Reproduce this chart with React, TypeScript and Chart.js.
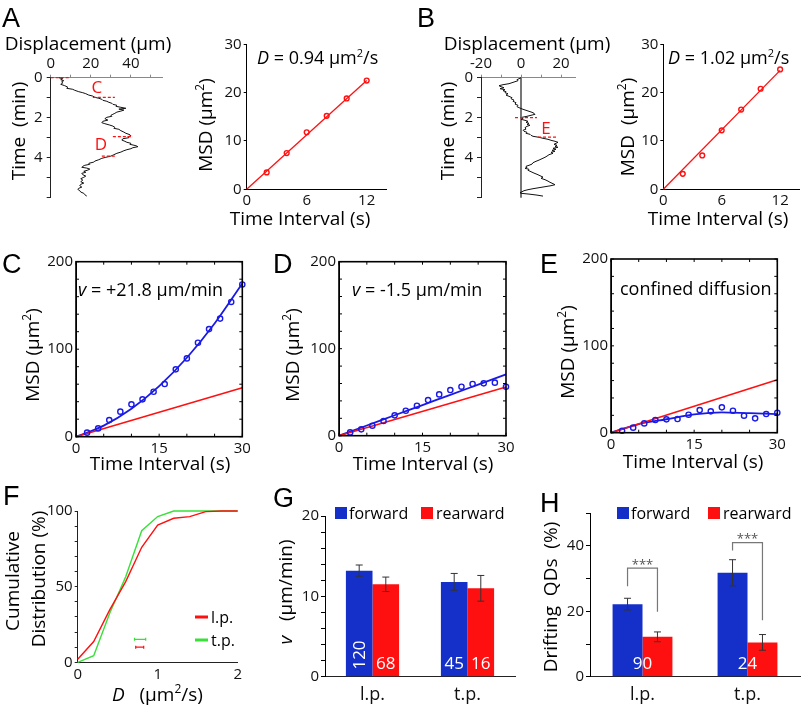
import React, { useEffect, useRef } from "react";
import { Chart, registerables } from "chart.js";

Chart.register(...registerables);

const W = 805;
const H = 707;
const FONT = "'Open Sans', 'DejaVu Sans', sans-serif";
const LETTER_FONT = "'Liberation Sans', Arial, sans-serif";
const BAR_BLUE = "#1430c8";
const BLUE = "#1a1ae6";
const RED = "#ff1010";
const GREEN = "#38e038";

// ---------------- Panel A / B : displacement traces ----------------
const traceATime = [0, 0.05, 0.1, 0.15, 0.2, 0.27, 0.33, 0.4, 0.47, 0.53, 0.58, 0.63, 0.7, 0.75, 0.8, 0.87, 0.92, 0.98, 1.03, 1.08, 1.13, 1.18, 1.23, 1.28, 1.33, 1.38, 1.43, 1.48, 1.53, 1.57, 1.62, 1.67, 1.72, 1.78, 1.83, 1.88, 1.93, 1.98, 2.05, 2.12, 2.18, 2.25, 2.3, 2.37, 2.42, 2.48, 2.53, 2.58, 2.65, 2.72, 2.78, 2.85, 2.9, 2.95, 3.0, 3.05, 3.12, 3.18, 3.23, 3.28, 3.33, 3.4, 3.45, 3.5, 3.55, 3.6, 3.65, 3.72, 3.78, 3.85, 3.92, 3.98, 4.03, 4.1, 4.17, 4.22, 4.28, 4.33, 4.38, 4.43, 4.48, 4.52, 4.57, 4.62, 4.68, 4.73, 4.78, 4.85, 4.92, 4.98, 5.05, 5.12, 5.2, 5.27, 5.33, 5.4, 5.47, 5.53, 5.58, 5.65, 5.72, 5.78, 5.85, 5.92];
const traceADisp = [4, 6, 5, 6.5, 5.5, 6, 5, 7, 8.5, 8, 11, 12, 14, 16, 17.5, 19, 21, 22, 24, 25.5, 26, 28, 29, 30.5, 31, 33, 32.5, 35, 37.5, 34, 36.5, 35, 33, 32, 31, 30, 30.5, 28, 27, 28.5, 26, 25.5, 27, 29.5, 31, 32, 31.5, 34, 35, 36.5, 37.5, 39.5, 40, 38.5, 39, 36, 35.5, 37, 38, 40, 39.5, 42.5, 43.5, 41, 40, 38, 36.5, 35, 33, 31.5, 30, 27.5, 25.5, 24, 22, 21.5, 19, 19.5, 17, 16, 15.5, 18, 19.5, 18.5, 16.5, 17.5, 15.5, 16, 17.5, 16.5, 15, 16, 15, 16.5, 15, 14.5, 15.5, 14, 13.5, 14.5, 15, 16.5, 17, 18];
const traceBTime = [0, 0.05, 0.1, 0.15, 0.2, 0.25, 0.3, 0.35, 0.4, 0.45, 0.5, 0.55, 0.6, 0.65, 0.7, 0.75, 0.8, 0.87, 0.93, 1.0, 1.05, 1.12, 1.18, 1.25, 1.32, 1.38, 1.45, 1.52, 1.58, 1.63, 1.68, 1.73, 1.78, 1.83, 1.88, 1.93, 1.98, 2.03, 2.08, 2.13, 2.18, 2.23, 2.28, 2.33, 2.38, 2.43, 2.5, 2.57, 2.63, 2.68, 2.73, 2.78, 2.83, 2.88, 2.93, 2.98, 3.03, 3.08, 3.13, 3.18, 3.23, 3.28, 3.33, 3.38, 3.43, 3.48, 3.53, 3.58, 3.63, 3.68, 3.73, 3.78, 3.85, 3.92, 3.98, 4.05, 4.12, 4.18, 4.25, 4.32, 4.38, 4.43, 4.48, 4.53, 4.58, 4.63, 4.7, 4.77, 4.83, 4.9, 4.97, 5.03, 5.1, 5.17, 5.23, 5.3, 5.35, 5.4, 5.45, 5.5, 5.55, 5.6, 5.65, 5.7, 5.75, 5.78, 5.82, 5.87, 5.92];
const traceBDisp = [0, -1, -2, -1.5, -3, -4.5, -6, -9, -11, -10, -8.5, -10.5, -8, -9, -7.5, -8, -6.5, -7.5, -6, -4.5, -5, -3.5, -4, -2.5, -3, -1.5, -2, -0.5, 1, 2.5, 4, 5.5, 6.5, 7, 5, 3, 0.5, 1, 0, 2, 3.5, 2.5, 4, 3, 4.5, 3, 2, 2.5, 1, 1.5, 3, 2.5, 4.5, 5, 6, 9, 11, 13.5, 15, 17, 18.5, 17.5, 16.5, 18, 17, 18.5, 16, 17.5, 15.5, 17, 15, 16, 14, 13, 12, 10.5, 9, 7.5, 6, 5.5, 4, 2.5, 3, 2, 4, 3.5, 5, 6.5, 8, 9.5, 11, 10, 12, 13.5, 14.5, 16, 17, 15, 12, 9, 6, 3.5, 1.5, 0.5, -0.5, 0, 4, 8, 11];
const markATime = [0, 0.98, 2.95, 3.92];
const markAFrom = [0, 21, 31, 25.5];
const markATo = [10, 32, 41, 33];
const markBTime = [2, 2.97];
const markBFrom = [-3, 8.5];
const markBTo = [8, 18];

// ---------------- Panel A / B : MSD ----------------
const lagAB = [2, 4, 6, 8, 10, 12];
const msdA = [3.5, 7.5, 11.8, 15.2, 18.8, 22.5];
const msdB = [3.2, 7.0, 12.2, 16.5, 20.8, 24.8];
const fitLagAB = [0, 12];
const fitA = [0, 22.5];
const fitB = [0, 24.6];

// ---------------- Panels C / D / E ----------------
const lagCDE = [2, 4, 6, 8, 10, 12, 14, 16, 18, 20, 22, 24, 26, 28, 30];
const msdC = [4.6, 9.5, 19, 28.6, 37, 42.7, 51.4, 60.2, 77, 89.5, 107.4, 123, 135, 154, 174];
const msdD = [3.8, 7.3, 11.5, 16.9, 23.4, 28.7, 34.5, 41, 47.5, 52.5, 56.3, 59.4, 60.2, 61, 56.3];
const msdE = [2.3, 5.8, 10.7, 14.6, 15.4, 15.7, 20.7, 26, 24.6, 29.2, 25.3, 19.6, 16.5, 21.5, 23];
const fitLagCDE = [0, 5, 10, 15, 20, 25, 30];
const fitC = [0, 12.6, 31.9, 57.8, 90.2, 129.3, 175];
const fitD = [0, 11.7, 23.5, 35.2, 47, 58.7, 70.4];
const fitE = [0, 10, 15.5, 21, 23.5, 22.5, 21.5];
const diffLag = [0, 30];
const diffC = [0, 56];
const diffD = [0, 56];
const diffE = [0, 61];

// ---------------- Panel F ----------------
const dBins = [0, 0.2, 0.4, 0.6, 0.8, 1.0, 1.2, 1.4, 1.6, 1.8, 2.0];
const cumLp = [2, 13.7, 34.6, 53.3, 76, 90.7, 95.2, 96.3, 99.6, 100, 100];
const cumTp = [0, 4.4, 32.4, 56.6, 87, 96.3, 100, 100, 100, 100, 100];
const dMean = [0.775, 0.78];
const dErr = [0.05, 0.07];
const dRowY = [10, 15.2];

// ---------------- Panels G / H ----------------
const groups = ["l.p.", "t.p."];
const vFwd = [13.2, 11.8];
const vRear = [11.5, 11.0];
const vFwdErr = [0.7, 1.05];
const vRearErr = [0.9, 1.6];
const vFwdN = ["120", "45"];
const vRearN = ["68", "16"];
const qFwd = [22.2, 31.8];
const qRear = [12.2, 10.5];
const qFwdErr = [1.8, 4.0];
const qRearErr = [1.5, 2.4];
const qN = ["90", "24"];
const sigLeft = [27.7, 38.6];
const sigTop = [33.2, 41];
const sigRight = [19.9, 17.3];

// ================= helpers =================
type Rect = { l: number; t: number; r: number; b: number };
type Seg = { t: string; it?: boolean; sup?: boolean };
type RichOpt = { align?: "left" | "center" | "right"; rotate?: boolean; color?: string };

function rich(ctx: CanvasRenderingContext2D, segs: Seg[], x: number, y: number, size: number, o: RichOpt = {}) {
  ctx.save();
  ctx.translate(x, y);
  if (o.rotate) ctx.rotate(-Math.PI / 2);
  const fontOf = (s: Seg) => `${s.it ? "italic " : ""}${s.sup ? Math.round(size * 0.62) : size}px ${FONT}`;
  const widths = segs.map((s) => {
    ctx.font = fontOf(s);
    return ctx.measureText(s.t).width;
  });
  const total = widths.reduce((a, b) => a + b, 0);
  let cx = o.align === "center" ? -total / 2 : o.align === "right" ? -total : 0;
  ctx.fillStyle = o.color ?? "#000";
  ctx.textAlign = "left";
  ctx.textBaseline = "alphabetic";
  segs.forEach((s, i) => {
    ctx.font = fontOf(s);
    ctx.fillText(s.t, cx, s.sup ? size * 0.36 - size * 0.42 : size * 0.36);
    cx += widths[i];
  });
  ctx.restore();
}

function letter(ctx: CanvasRenderingContext2D, s: string, x: number, y: number) {
  ctx.save();
  ctx.font = `27px ${LETTER_FONT}`;
  ctx.fillStyle = "#000";
  ctx.textAlign = "left";
  ctx.textBaseline = "alphabetic";
  ctx.fillText(s, x, y);
  ctx.restore();
}

function zeroPad(s: any) {
  s.paddingLeft = 0;
  s.paddingRight = 0;
  s.paddingTop = 0;
  s.paddingBottom = 0;
}

interface AxOpt {
  pos: "left" | "right" | "top" | "bottom";
  min: number;
  max: number;
  step: number;
  show: number[];
  tick: number;
  size: number;
  pad?: number;
  color?: string;
  reverse?: boolean;
  fs?: number;
}

function linAxis(o: AxOpt) {
  const vertical = o.pos === "left" || o.pos === "right";
  const col = o.color ?? "#000";
  return {
    type: "linear",
    position: o.pos,
    min: o.min,
    max: o.max,
    reverse: !!o.reverse,
    afterFit: (s: any) => {
      if (vertical) s.width = o.size;
      else s.height = o.size;
      zeroPad(s);
    },
    ticks: {
      stepSize: o.step,
      includeBounds: false,
      autoSkip: false,
      maxRotation: 0,
      minRotation: 0,
      padding: o.pad ?? 3,
      color: "#111",
      font: { family: FONT, size: o.fs ?? 15 },
      callback: (v: number) => (o.show.some((s) => Math.abs(s - v) < 1e-6) ? String(v) : ""),
    },
    grid: {
      display: true,
      drawOnChartArea: false,
      drawTicks: o.tick > 0,
      tickLength: o.tick,
      color: col,
      tickColor: col,
      lineWidth: 1,
    },
    border: { display: true, color: col, width: 1 },
  };
}

function catAxis(size: number) {
  return {
    type: "category",
    position: "bottom",
    afterFit: (s: any) => {
      s.height = size;
      zeroPad(s);
    },
    ticks: { padding: 7, color: "#111", font: { family: FONT, size: 18 }, maxRotation: 0, minRotation: 0 },
    grid: { display: true, drawOnChartArea: false, drawTicks: false, color: "#000" },
    border: { display: true, color: "#222", width: 1 },
  };
}

function base(rect: Rect, xSize: number, ySize: number, xTop: boolean, scales: any) {
  return {
    responsive: false,
    maintainAspectRatio: false,
    animation: false,
    events: [],
    layout: {
      padding: {
        left: rect.l - ySize,
        top: xTop ? rect.t - xSize : rect.t,
        right: W - rect.r,
        bottom: xTop ? H - rect.b : H - rect.b - xSize,
      },
    },
    plugins: { legend: { display: false }, tooltip: { enabled: false } },
    scales,
  };
}

function deco(fn: (chart: any, ctx: CanvasRenderingContext2D) => void) {
  return {
    id: "deco",
    afterDraw(chart: any) {
      const ctx = chart.ctx as CanvasRenderingContext2D;
      ctx.save();
      fn(chart, ctx);
      ctx.restore();
    },
  };
}

function pxy(chart: any, x: number, y: number): [number, number] {
  return [chart.scales.x.getPixelForValue(x), chart.scales.y.getPixelForValue(y)];
}

function pts(xs: number[], ys: number[]) {
  return xs.map((x, i) => ({ x, y: ys[i] }));
}

function lineDs(data: any[], color: string, width: number, extra: any = {}) {
  return { data, showLine: true, borderColor: color, backgroundColor: color, borderWidth: width, pointRadius: 0, clip: false, ...extra };
}

function circleDs(data: any[], color: string, r = 2.6) {
  return {
    data,
    showLine: false,
    pointStyle: "circle",
    pointRadius: r,
    pointBorderWidth: 1.4,
    pointBorderColor: color,
    borderColor: color,
    pointBackgroundColor: "rgba(0,0,0,0)",
    backgroundColor: "rgba(0,0,0,0)",
    clip: false,
  };
}

function frame(chart: any, ctx: CanvasRenderingContext2D) {
  const a = chart.chartArea;
  const sx = chart.scales.x;
  const sy = chart.scales.y;
  ctx.strokeStyle = "#000";
  ctx.lineWidth = 1.6;
  ctx.strokeRect(a.left, a.top, a.right - a.left, a.bottom - a.top);
  ctx.lineWidth = 1;
  ctx.beginPath();
  sx.ticks.forEach((t: any) => {
    const p = sx.getPixelForValue(t.value);
    ctx.moveTo(p, a.bottom);
    ctx.lineTo(p, a.bottom - 3);
    ctx.moveTo(p, a.top);
    ctx.lineTo(p, a.top + 3);
  });
  sy.ticks.forEach((t: any) => {
    const p = sy.getPixelForValue(t.value);
    ctx.moveTo(a.left, p);
    ctx.lineTo(a.left + 3, p);
    ctx.moveTo(a.right, p);
    ctx.lineTo(a.right - 3, p);
  });
  ctx.stroke();
}

function errV(ctx: CanvasRenderingContext2D, x: number, y1: number, y2: number, cap: number) {
  ctx.beginPath();
  ctx.moveTo(x, y1);
  ctx.lineTo(x, y2);
  ctx.moveTo(x - cap, y1);
  ctx.lineTo(x + cap, y1);
  ctx.moveTo(x - cap, y2);
  ctx.lineTo(x + cap, y2);
  ctx.stroke();
}

const MSD_LABEL: Seg[] = [{ t: "MSD (μm" }, { t: "2", sup: true }, { t: ")" }];
const MSD_LABEL_B: Seg[] = [{ t: "MSD  (μm" }, { t: "2", sup: true }, { t: ")" }];
const TI_LABEL: Seg[] = [{ t: "Time Interval (s)" }];

// ================= panel configs =================
function cfgTrace(which: "A" | "B") {
  const isA = which === "A";
  const rect: Rect = isA ? { l: 50.7, t: 77.7, r: 163, b: 197.7 } : { l: 481, t: 77.7, r: 575, b: 197.7 };
  const times = isA ? traceATime : traceBTime;
  const disps = isA ? traceADisp : traceBDisp;
  const mt = isA ? markATime : markBTime;
  const mf = isA ? markAFrom : markBFrom;
  const mto = isA ? markATo : markBTo;
  const datasets: any[] = mt.map((t, i) =>
    lineDs([{ x: mf[i], y: t }, { x: mto[i], y: t }], RED, 1.3, { borderDash: [3, 2] })
  );
  datasets.push(lineDs(pts(disps, times), "#111", 1));
  if (!isA) datasets.push(lineDs([{ x: 0, y: 0 }, { x: 0, y: 6 }], "#555", 1.6));
  return {
    type: "scatter",
    data: { datasets },
    options: base(rect, 24, 30, true, {
      x: linAxis({
        pos: "top",
        min: isA ? 0 : -20,
        max: isA ? 56 : 27,
        step: 10,
        show: isA ? [0, 20, 40] : [-20, 0, 20],
        tick: 3,
        size: 24,
        pad: 2,
        color: "#888",
      }),
      y: linAxis({ pos: "left", min: 0, max: 6, step: 1, show: [0, 2, 4], tick: 4, size: 30, pad: 4, reverse: true, color: "#222" }),
    }),
    plugins: [
      deco((ch, ctx) => {
        if (isA) {
          letter(ctx, "A", 2, 27);
          rich(ctx, [{ t: "Displacement (μm)" }], 88, 43, 19, { align: "center" });
          rich(ctx, [{ t: "Time  (min)" }], 18, 131, 19, { align: "center", rotate: true });
          let [x, y] = pxy(ch, 23, 0.47);
          rich(ctx, [{ t: "C" }], x, y, 17, { align: "center", color: RED });
          [x, y] = pxy(ch, 25, 3.33);
          rich(ctx, [{ t: "D" }], x, y, 17, { align: "center", color: RED });
        } else {
          letter(ctx, "B", 417, 27);
          rich(ctx, [{ t: "Displacement (μm)" }], 527, 43, 19, { align: "center" });
          rich(ctx, [{ t: "Time  (min)" }], 447, 131, 19, { align: "center", rotate: true });
          const [x, y] = pxy(ch, 12.5, 2.5);
          rich(ctx, [{ t: "E" }], x, y, 17, { align: "center", color: RED });
        }
      }),
    ],
  };
}

function cfgMsdAB(which: "A" | "B") {
  const isA = which === "A";
  const rect: Rect = isA ? { l: 246.7, t: 44.3, r: 386.7, b: 189.3 } : { l: 663.3, t: 44.3, r: 803.3, b: 189.3 };
  const vals = isA ? msdA : msdB;
  const fit = isA ? fitA : fitB;
  return {
    type: "scatter",
    data: {
      datasets: [circleDs(pts(lagAB, vals), RED, 2.4), lineDs(pts(fitLagAB, fit), RED, 1.3)],
    },
    options: base(rect, 24, 30, false, {
      x: linAxis({ pos: "bottom", min: 0, max: 14, step: 3, show: [0, 6, 12], tick: 0, size: 24, pad: 2 }),
      y: linAxis({ pos: "left", min: 0, max: 30, step: 10, show: [0, 10, 20, 30], tick: 3, size: 30, pad: 2 }),
    }),
    plugins: [
      deco((ch, ctx) => {
        const dv = isA ? "0.94" : "1.02";
        rich(
          ctx,
          [{ t: "D", it: true }, { t: ` = ${dv} μm` }, { t: "2", sup: true }, { t: "/s" }],
          isA ? 257 : 668,
          58,
          18
        );
        rich(ctx, isA ? MSD_LABEL : MSD_LABEL_B, isA ? 205 : 627, isA ? 125 : 127, 19, { align: "center", rotate: true });
        rich(ctx, TI_LABEL, isA ? 300 : 718, 218, 19, { align: "center" });
      }),
    ],
  };
}

function cfgCDE(which: "C" | "D" | "E") {
  const rects: Record<string, Rect> = {
    C: { l: 76, t: 261.7, r: 242.3, b: 436.7 },
    D: { l: 339, t: 261.7, r: 506, b: 435.7 },
    E: { l: 611, t: 259, r: 777.3, b: 432.7 },
  };
  const vals = which === "C" ? msdC : which === "D" ? msdD : msdE;
  const fit = which === "C" ? fitC : which === "D" ? fitD : fitE;
  const diff = which === "C" ? diffC : which === "D" ? diffD : diffE;
  const rect = rects[which];
  return {
    type: "scatter",
    data: {
      datasets: [
        circleDs(pts(lagCDE, vals), BLUE, 2.6),
        lineDs(pts(diffLag, diff), RED, 1.5),
        lineDs(pts(fitLagCDE, fit), BLUE, 1.8, { cubicInterpolationMode: "monotone" }),
      ],
    },
    options: base(rect, 26, 40, false, {
      x: linAxis({ pos: "bottom", min: 0, max: 30, step: 5, show: [0, 15, 30], tick: 0, size: 26, pad: 3 }),
      y: linAxis({ pos: "left", min: 0, max: 200, step: 20, show: [0, 100, 200], tick: 0, size: 40, pad: 3 }),
    }),
    plugins: [
      deco((ch, ctx) => {
        frame(ch, ctx);
        const letX = which === "C" ? 2 : which === "D" ? 273 : 540;
        letter(ctx, which, letX, 273);
        if (which === "C") {
          rich(ctx, [{ t: "v", it: true }, { t: " = +21.8 μm/min" }], 78, 290, 18);
          rich(ctx, MSD_LABEL, 32, 355, 19, { align: "center", rotate: true });
          rich(ctx, TI_LABEL, 160, 463, 19, { align: "center" });
        } else if (which === "D") {
          rich(ctx, [{ t: "v", it: true }, { t: " = -1.5 μm/min" }], 352, 290, 18);
          rich(ctx, MSD_LABEL, 292, 355, 19, { align: "center", rotate: true });
          rich(ctx, TI_LABEL, 423, 463, 19, { align: "center" });
        } else {
          rich(ctx, [{ t: "confined diffusion" }], 620, 289, 18);
          rich(ctx, MSD_LABEL, 567, 352, 19, { align: "center", rotate: true });
          rich(ctx, TI_LABEL, 693, 461, 19, { align: "center" });
        }
      }),
    ],
  };
}

function cfgF() {
  const rect: Rect = { l: 77.7, t: 511, r: 237.7, b: 662.3 };
  return {
    type: "scatter",
    data: {
      datasets: [lineDs(pts(dBins, cumLp), RED, 1.4), lineDs(pts(dBins, cumTp), GREEN, 1.4)],
    },
    options: base(rect, 24, 40, false, {
      x: linAxis({ pos: "bottom", min: 0, max: 2, step: 1, show: [0, 1, 2], tick: 0, size: 24, pad: 3, color: "#222" }),
      y: linAxis({ pos: "left", min: 0, max: 100, step: 10, show: [0, 50, 100], tick: 3, size: 40, pad: 2, color: "#222" }),
    }),
    plugins: [
      deco((ch, ctx) => {
        letter(ctx, "F", 3, 505);
        // mean ± error markers
        const cols = [RED, GREEN];
        dMean.forEach((m, i) => {
          const [x1, y] = pxy(ch, m - dErr[i], dRowY[i]);
          const [x2] = pxy(ch, m + dErr[i], dRowY[i]);
          ctx.strokeStyle = cols[i];
          ctx.lineWidth = 1.2;
          ctx.beginPath();
          ctx.moveTo(x1, y);
          ctx.lineTo(x2, y);
          ctx.moveTo(x1, y - 1.5);
          ctx.lineTo(x1, y + 1.5);
          ctx.moveTo(x2, y - 1.5);
          ctx.lineTo(x2, y + 1.5);
          ctx.stroke();
        });
        // legend
        const legs: [string, string, number][] = [
          ["l.p.", RED, 617],
          ["t.p.", GREEN, 640],
        ];
        legs.forEach(([name, col, y]) => {
          ctx.strokeStyle = col;
          ctx.lineWidth = 3;
          ctx.beginPath();
          ctx.moveTo(195, y);
          ctx.lineTo(208, y);
          ctx.stroke();
          rich(ctx, [{ t: name }], 211, y, 16);
        });
        rich(ctx, [{ t: "Cumulative" }], 12, 581, 19, { align: "center", rotate: true });
        rich(ctx, [{ t: "Distribution (%)" }], 38, 579, 19, { align: "center", rotate: true });
        rich(ctx, [{ t: "D", it: true }, { t: "   (μm" }, { t: "2", sup: true }, { t: "/s)" }], 112, 694, 19);
      }),
    ],
  };
}

function barLegend(ctx: CanvasRenderingContext2D, x1: number, x2: number, y: number) {
  ctx.fillStyle = BAR_BLUE;
  ctx.fillRect(x1, y - 6, 12, 12);
  rich(ctx, [{ t: "forward" }], x1 + 14, y, 16);
  ctx.fillStyle = RED;
  ctx.fillRect(x2, y - 6, 12, 12);
  rich(ctx, [{ t: "rearward" }], x2 + 15, y, 16);
}

function cfgG() {
  const rect: Rect = { l: 325, t: 516, r: 515, b: 676.7 };
  return {
    type: "bar",
    data: {
      labels: groups,
      datasets: [
        { data: vFwd, backgroundColor: BAR_BLUE, borderWidth: 0, categoryPercentage: 0.56, barPercentage: 1 },
        { data: vRear, backgroundColor: RED, borderWidth: 0, categoryPercentage: 0.56, barPercentage: 1 },
      ],
    },
    options: base(rect, 28, 36, false, {
      x: catAxis(28),
      y: linAxis({ pos: "left", min: 0, max: 20, step: 2, show: [0, 10, 20], tick: 4, size: 36, pad: 2 }),
    }),
    plugins: [
      deco((ch, ctx) => {
        letter(ctx, "G", 273, 507);
        const sy = ch.scales.y;
        const mF = ch.getDatasetMeta(0).data;
        const mR = ch.getDatasetMeta(1).data;
        ctx.strokeStyle = "#333";
        ctx.lineWidth = 1;
        groups.forEach((_, j) => {
          errV(ctx, mF[j].x, sy.getPixelForValue(vFwd[j] + vFwdErr[j]), sy.getPixelForValue(vFwd[j] - vFwdErr[j]), 3.5);
          errV(ctx, mR[j].x, sy.getPixelForValue(vRear[j] + vRearErr[j]), sy.getPixelForValue(vRear[j] - vRearErr[j]), 3.5);
          if (j === 0) {
            rich(ctx, [{ t: vFwdN[j] }], mF[j].x, sy.getPixelForValue(2.7), 17, { align: "center", rotate: true, color: "#fff" });
          } else {
            rich(ctx, [{ t: vFwdN[j] }], mF[j].x, sy.getPixelForValue(1.7), 17, { align: "center", color: "#fff" });
          }
          rich(ctx, [{ t: vRearN[j] }], mR[j].x, sy.getPixelForValue(1.7), 17, { align: "center", color: "#fff" });
        });
        barLegend(ctx, 335, 421, 513);
        rich(ctx, [{ t: "v", it: true }, { t: "   (μm/min)" }], 285, 592, 19, { align: "center", rotate: true });
      }),
    ],
  };
}

function cfgH() {
  const rect: Rect = { l: 590, t: 513.3, r: 800, b: 676.7 };
  return {
    type: "bar",
    data: {
      labels: groups,
      datasets: [
        { data: qFwd, backgroundColor: BAR_BLUE, borderWidth: 0, categoryPercentage: 0.57, barPercentage: 1 },
        { data: qRear, backgroundColor: RED, borderWidth: 0, categoryPercentage: 0.57, barPercentage: 1 },
      ],
    },
    options: base(rect, 28, 36, false, {
      x: catAxis(28),
      y: linAxis({ pos: "left", min: 0, max: 50, step: 10, show: [0, 20, 40], tick: 4, size: 36, pad: 2 }),
    }),
    plugins: [
      deco((ch, ctx) => {
        letter(ctx, "H", 540, 512);
        const sy = ch.scales.y;
        const mF = ch.getDatasetMeta(0).data;
        const mR = ch.getDatasetMeta(1).data;
        groups.forEach((_, j) => {
          ctx.strokeStyle = "#333";
          ctx.lineWidth = 1;
          errV(ctx, mF[j].x, sy.getPixelForValue(qFwd[j] + qFwdErr[j]), sy.getPixelForValue(qFwd[j] - qFwdErr[j]), 3.5);
          errV(ctx, mR[j].x, sy.getPixelForValue(qRear[j] + qRearErr[j]), sy.getPixelForValue(qRear[j] - qRearErr[j]), 3.5);
          // significance bracket
          ctx.strokeStyle = "#777";
          ctx.lineWidth = 1.2;
          ctx.beginPath();
          ctx.moveTo(mF[j].x, sy.getPixelForValue(sigLeft[j]));
          ctx.lineTo(mF[j].x, sy.getPixelForValue(sigTop[j]));
          ctx.lineTo(mR[j].x, sy.getPixelForValue(sigTop[j]));
          ctx.lineTo(mR[j].x, sy.getPixelForValue(sigRight[j]));
          ctx.stroke();
          const cx = (mF[j].x + mR[j].x) / 2;
          rich(ctx, [{ t: "***" }], cx, sy.getPixelForValue(sigTop[j]) - 4, 13, { align: "center", color: "#555" });
          rich(ctx, [{ t: qN[j] }], cx, sy.getPixelForValue(4.1), 17, { align: "center", color: "#fff" });
        });
        barLegend(ctx, 617, 708, 513);
        rich(ctx, [{ t: "Drifting  QDs  (%)" }], 550, 597, 19, { align: "center", rotate: true });
      }),
    ],
  };
}

// ================= React =================
function Panel({ make }: { make: () => any }) {
  const ref = useRef<HTMLCanvasElement>(null);
  useEffect(() => {
    const chart = new Chart(ref.current as HTMLCanvasElement, make());
    return () => chart.destroy();
  }, []);
  return (
    <canvas
      ref={ref}
      width={W}
      height={H}
      style={{ position: "absolute", left: 0, top: 0, width: W, height: H }}
    />
  );
}

const makers: (() => any)[] = [
  () => cfgTrace("A"),
  () => cfgMsdAB("A"),
  () => cfgTrace("B"),
  () => cfgMsdAB("B"),
  () => cfgCDE("C"),
  () => cfgCDE("D"),
  () => cfgCDE("E"),
  () => cfgF(),
  () => cfgG(),
  () => cfgH(),
];

export default function App() {
  return (
    <div
      style={{
        position: "absolute",
        left: 0,
        top: 0,
        width: W,
        height: H,
        overflow: "hidden",
        background: "#fff",
      }}
    >
      {makers.map((m, i) => (
        <Panel key={i} make={m} />
      ))}
    </div>
  );
}
